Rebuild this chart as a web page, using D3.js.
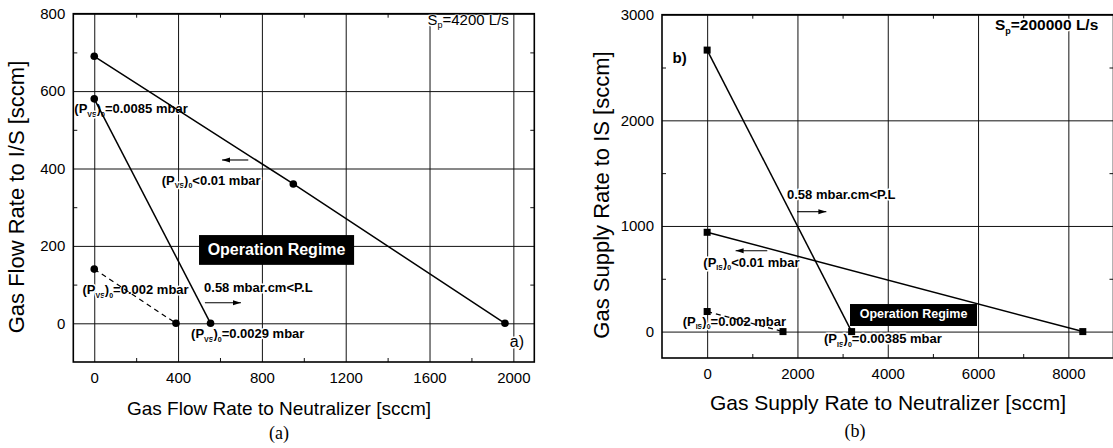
<!DOCTYPE html>
<html>
<head>
<meta charset="utf-8">
<script src="https://cdn.jsdelivr.net/npm/d3@7"></script>
<style>
body { margin: 0; background: #fff; }
svg { display: block; font-family: "Liberation Sans", Arial, sans-serif; }
</style>
</head>
<body>
<div id="chart"></div>
<script>
// panel (a) : Sp = 4200 L/s
const aXTicks = [0, 400, 800, 1200, 1600, 2000];
const aYTicks = [0, 200, 400, 600, 800];
const aXMinor = [200, 600, 1000, 1400, 1800];
const aYMinor = [100, 300, 500, 700];
const aNeut1 = [0, 950, 1960], aIS1 = [690, 360, 0];   // (P)0 < 0.01 mbar
const aNeut2 = [0, 555],       aIS2 = [580, 0];        // P.L > 0.58 mbar.cm
const aNeut3 = [0, 390],       aIS3 = [140, 0];        // (P)0 = 0.002 mbar, dashed

// panel (b) : Sp = 200000 L/s
const bXTicks = [0, 2000, 4000, 6000, 8000];
const bYTicks = [0, 1000, 2000, 3000];
const bXMinor = [1000, 3000, 5000, 7000];
const bYMinor = [500, 1500, 2500];
const bNeut1 = [0, 3200], bIS1 = [2665, 0];
const bNeut2 = [0, 8320], bIS2 = [940, 0];
const bNeut3 = [0, 1680], bIS3 = [190, 0];

const width = 1113, height = 448;

const svg = d3.select("#chart").append("svg")
    .attr("width", width)
    .attr("height", height)
    .attr("viewBox", [0, 0, width, height]);

svg.append("defs").append("marker")
    .attr("id", "arr")
    .attr("markerUnits", "userSpaceOnUse")
    .attr("markerWidth", 8).attr("markerHeight", 6)
    .attr("refX", 8).attr("refY", 3)
    .attr("orient", "auto")
  .append("path")
    .attr("d", "M0,0.5L8,3L0,5.5Z")
    .attr("fill", "#000");

// text with subscripts: parts = [[text, isSub], ...]
function rich(g, px, py, parts, opt) {
  const size = opt.size || 13, sub = opt.sub || 7;
  const t = g.append("text")
      .attr("x", px).attr("y", py)
      .attr("font-size", size)
      .attr("font-weight", opt.bold ? "bold" : null)
      .attr("text-anchor", opt.anchor || "start");
  if (opt.halo) {
    t.attr("stroke", "#fff").attr("stroke-width", 3)
     .attr("paint-order", "stroke").attr("stroke-linejoin", "round");
  }
  let down = false;
  parts.forEach(([s, isSub]) => {
    t.append("tspan")
        .attr("font-size", isSub ? sub : size)
        .attr("dy", isSub === down ? 0 : (isSub ? 3.5 : -3.5))
        .text(s);
    down = !!isSub;
  });
  return t;
}

function panel(cfg) {
  const g = svg.append("g");
  const x = d3.scaleLinear().domain(cfg.xDomain).range(cfg.xRange);
  const y = d3.scaleLinear().domain(cfg.yDomain).range(cfg.yRange);
  const [x0, x1] = cfg.xRange, [y1, y0] = cfg.yRange;
  const w = x1 - x0, h = y1 - y0;
  const fmt = d3.format("d");

  const style = a => a
      .call(s => s.select(".domain").remove())
      .call(s => s.attr("font-family", null).attr("font-size", 15))
      .call(s => s.selectAll(".tick line").attr("stroke", "#111").attr("stroke-width", 1))
      .call(s => s.selectAll(".tick text").attr("fill", "#000"));

  // grid + labels
  g.append("g").attr("transform", `translate(0,${y1})`)
      .call(d3.axisBottom(x).tickValues(cfg.xTicks).tickFormat(fmt).tickSize(-h).tickPadding(10))
      .call(style);
  g.append("g").attr("transform", `translate(${x0},0)`)
      .call(d3.axisLeft(y).tickValues(cfg.yTicks).tickFormat(fmt).tickSize(-w).tickPadding(8))
      .call(style);

  // minor ticks, inward on all sides
  const minor = (axis, tr) => g.append("g").attr("transform", tr)
      .call(axis.tickSize(-4).tickFormat(""))
      .call(style);
  minor(d3.axisBottom(x).tickValues(cfg.xMinor), `translate(0,${y1})`);
  minor(d3.axisTop(x).tickValues(cfg.xMinor), `translate(0,${y0})`);
  minor(d3.axisLeft(y).tickValues(cfg.yMinor), `translate(${x0},0)`);
  minor(d3.axisRight(y).tickValues(cfg.yMinor), `translate(${x1},0)`);

  // annotations
  cfg.notes.forEach(n => rich(g, x(n.x), y(n.y), n.parts,
      {size: n.size, sub: n.sub, bold: n.bold, halo: n.halo !== false}));

  cfg.arrows.forEach(a => g.append("line")
      .attr("x1", x(a[0])).attr("x2", x(a[1]))
      .attr("y1", y(a[2])).attr("y2", y(a[2]))
      .attr("stroke", "#000").attr("stroke-width", 1.1)
      .attr("marker-end", "url(#arr)"));

  const b = cfg.box;
  g.append("rect")
      .attr("x", x(b.x[0])).attr("width", x(b.x[1]) - x(b.x[0]))
      .attr("y", y(b.y[1])).attr("height", y(b.y[0]) - y(b.y[1]))
      .attr("fill", "#000");
  g.append("text")
      .attr("x", x((b.x[0] + b.x[1]) / 2)).attr("y", y(b.ty))
      .attr("text-anchor", "middle")
      .attr("font-size", b.size).attr("font-weight", "bold")
      .attr("fill", "#fff")
      .text("Operation Regime");

  // series
  const line = d3.line().x(d => x(d[0])).y(d => y(d[1]));
  cfg.series.forEach(s => {
    const pts = d3.zip(s.xs, s.ys);
    g.append("path")
        .attr("d", line(pts))
        .attr("fill", "none")
        .attr("stroke", "#000")
        .attr("stroke-width", s.dashed ? 1.2 : 1.5)
        .attr("stroke-dasharray", s.dashed ? "5,4" : null);
    if (cfg.square) {
      g.selectAll(null).data(pts).join("rect")
          .attr("x", d => x(d[0]) - 3.5).attr("y", d => y(d[1]) - 3.5)
          .attr("width", 7).attr("height", 7)
          .attr("fill", "#000");
    } else {
      g.selectAll(null).data(pts).join("circle")
          .attr("cx", d => x(d[0])).attr("cy", d => y(d[1]))
          .attr("r", 3.8)
          .attr("fill", "#000");
    }
  });

  g.append("rect")
      .attr("x", x0).attr("y", y0).attr("width", w).attr("height", h)
      .attr("fill", "none").attr("stroke", "#000").attr("stroke-width", 1.6);

  // titles
  g.append("text")
      .attr("x", cfg.xTitle.x).attr("y", cfg.xTitle.y)
      .attr("text-anchor", "middle").attr("font-size", cfg.xTitle.size)
      .text(cfg.xTitle.text);
  g.append("text")
      .attr("transform", `translate(${cfg.yTitle.x},${cfg.yTitle.y}) rotate(-90)`)
      .attr("text-anchor", "middle").attr("font-size", cfg.yTitle.size)
      .text(cfg.yTitle.text);
  g.append("text")
      .attr("x", cfg.caption.x).attr("y", cfg.caption.y)
      .attr("text-anchor", "middle").attr("font-size", 18)
      .attr("font-family", "'Liberation Serif', 'Times New Roman', serif")
      .text(cfg.caption.text);
}

panel({
  xDomain: [-100, 2100], xRange: [73.3, 534.3],
  yDomain: [-100, 800], yRange: [362, 13.7],
  xTicks: aXTicks, yTicks: aYTicks, xMinor: aXMinor, yMinor: aYMinor,
  series: [
    {xs: aNeut1, ys: aIS1},
    {xs: aNeut2, ys: aIS2},
    {xs: aNeut3, ys: aIS3, dashed: true}
  ],
  notes: [
    {x: 1590, y: 762, size: 15, sub: 9, parts: [["S"], ["p", 1], ["=4200 L/s"]]},
    {x: -95, y: 534, bold: true, parts: [["(P"], ["VS", 1], [")"], ["0", 1], ["=0.0085 mbar"]]},
    {x: 322, y: 349, bold: true, parts: [["(P"], ["VS", 1], [")"], ["0", 1], ["<0.01 mbar"]]},
    {x: -56, y: 66, bold: true, parts: [["(P"], ["VS", 1], [")"], ["0", 1], ["=0.002 mbar"]]},
    {x: 524, y: 73, bold: true, parts: [["0.58 mbar.cm<P.L"]]},
    {x: 462, y: -48, bold: true, parts: [["(P"], ["VS", 1], [")"], ["0", 1], ["=0.0029 mbar"]]},
    {x: 1983, y: -69, size: 16, parts: [["a)"]]}
  ],
  arrows: [[735, 610, 422], [528, 700, 53]],
  box: {x: [500, 1240], y: [151, 228], ty: 176, size: 16},
  xTitle: {text: "Gas Flow Rate to Neutralizer [sccm]", x: 279, y: 415, size: 19},
  yTitle: {text: "Gas Flow Rate to I/S [sccm]", x: 24, y: 197, size: 22},
  caption: {text: "(a)", x: 279, y: 439}
});

panel({
  xDomain: [-1000, 9000], xRange: [662, 1113.5],
  yDomain: [-250, 3000], yRange: [358, 14.7],
  xTicks: bXTicks, yTicks: bYTicks, xMinor: bXMinor, yMinor: bYMinor,
  square: true,
  series: [
    {xs: bNeut1, ys: bIS1},
    {xs: bNeut2, ys: bIS2},
    {xs: bNeut3, ys: bIS3, dashed: true}
  ],
  notes: [
    {x: -767, y: 2513, size: 15, bold: true, parts: [["b)"]]},
    {x: 6375, y: 2822, size: 15.5, sub: 9, bold: true, parts: [["S"], ["p", 1], ["=200000 L/s"]]},
    {x: 1769, y: 1224, bold: true, parts: [["0.58 mbar.cm<P.L"]]},
    {x: -85, y: 583, bold: true, parts: [["(P"], ["IS", 1], [")"], ["0", 1], ["<0.01 mbar"]]},
    {x: -542, y: 22, bold: true, parts: [["(P"], ["IS", 1], [")"], ["0", 1], ["=0.002 mbar"]]},
    {x: 2588, y: -143, bold: true, parts: [["(P"], ["IS", 1], [")"], ["0", 1], ["=0.00385 mbar"]]}
  ],
  arrows: [[1990, 2640, 1135], [1332, 630, 766]],
  box: {x: [3164, 5977], y: [53, 261], ty: 126, size: 12.5},
  xTitle: {text: "Gas Supply Rate to Neutralizer [sccm]", x: 888, y: 410, size: 21},
  yTitle: {text: "Gas Supply Rate to IS [sccm]", x: 609, y: 195, size: 22},
  caption: {text: "(b)", x: 855, y: 437}
});
</script>
</body>
</html>
